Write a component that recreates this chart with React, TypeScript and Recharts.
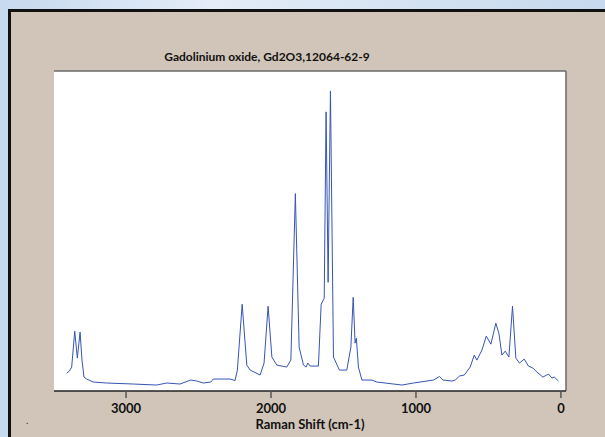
import React from 'react';
import { LineChart, Line, XAxis, YAxis, CartesianGrid, ReferenceLine, Label } from 'recharts';

const ramanShift = [
  3409, 3391, 3375, 3354, 3336, 3317, 3304, 3290, 3271, 3226, 3134, 2950, 2789, 2720, 2628,
  2554, 2512, 2466, 2416, 2398, 2351, 2282, 2248, 2232, 2199, 2167, 2144, 2075, 2048, 2020,
  1994, 1960, 1891, 1863, 1832, 1806, 1776, 1758, 1746, 1730, 1673, 1654, 1633, 1620, 1606,
  1590, 1569, 1528, 1477, 1449, 1433, 1420, 1411, 1397, 1373, 1304, 1270, 1097, 1017, 879,
  838, 814, 752, 729, 700, 667, 626, 598, 580, 545, 515, 483, 449, 428, 407,
  384, 359, 334, 311, 286, 253, 224, 193, 166, 124, 86, 62, 46, 17,
];
const intensity = [
  18, 20, 24, 60, 33, 59, 31, 14, 12, 9, 8, 7, 6, 8, 7,
  11, 10, 8, 9, 12, 12, 12, 10.5, 21, 87, 26, 21, 16, 28, 85,
  34, 26, 24, 31, 198, 44, 26, 24, 28, 25, 25, 87, 93, 280, 109,
  301, 34, 21, 21, 44, 94, 48, 53, 24, 11, 11, 9, 6, 8, 11,
  14.5, 11, 10, 11, 15, 16, 24, 36, 31, 41, 55, 47, 68, 58, 36,
  40, 34, 85, 33, 28, 32, 25, 23, 19, 14, 17, 13, 14, 10,
];
const xTicks = [3000, 2000, 1000, 0];
const xDomain = [-35, 3497];
const yDomain = [0, 321];
const title = 'Gadolinium oxide, Gd2O3,12064-62-9';
const xLabel = 'Raman Shift (cm-1)';

const data = ramanShift.map((s, i) => ({ shift: s, intensity: intensity[i] }));

const font = 'Lato, "Open Sans", sans-serif';

export default function App() {
  return (
    <div
      style={{
        position: 'absolute',
        left: 0,
        top: 0,
        width: 605,
        height: 437,
        overflow: 'hidden',
        background: 'linear-gradient(90deg, #c6d9ee 0%, #e4edf8 35%, #d8e5f3 60%, #c6d9ee 100%)',
      }}
    >
      <div
        style={{
          position: 'absolute',
          left: 8,
          top: 9,
          width: 640,
          height: 460,
          background: '#d1c5b9',
          borderTop: '3px solid #111',
          borderLeft: '3px solid #111',
        }}
      />
      <div
        style={{
          position: 'absolute',
          left: 0,
          width: 534,
          top: 49,
          textAlign: 'center',
          fontFamily: font,
          fontWeight: 'bold',
          fontSize: 12,
          color: '#111',
          lineHeight: '16px',
          whiteSpace: 'nowrap',
        }}
      >
        {title}
      </div>
      <div
        style={{
          position: 'absolute',
          left: 26,
          top: 414,
          fontFamily: font,
          fontSize: 10,
          color: '#333',
        }}
      >
        .
      </div>
      <div style={{ position: 'absolute', left: 0, top: 0 }}>
        <LineChart
          width={605}
          height={437}
          data={data}
          margin={{ top: 71, right: 39, bottom: 16, left: 54 }}
        >
          <CartesianGrid fill="#ffffff" horizontal={false} vertical={false} />
          <XAxis
            type="number"
            dataKey="shift"
            domain={xDomain}
            reversed
            ticks={xTicks}
            interval={0}
            allowDataOverflow
            height={30}
            tickSize={7}
            tickMargin={6}
            axisLine={{ stroke: '#222', strokeWidth: 1.5 }}
            tickLine={{ stroke: '#555', strokeWidth: 1.5 }}
            tick={{ fill: '#111', fontFamily: font, fontWeight: 'bold', fontSize: 13 }}
          >
            <Label
              value={xLabel}
              position="bottom"
              offset={-1}
              style={{ fill: '#111', fontFamily: font, fontWeight: 'bold', fontSize: 13 }}
            />
          </XAxis>
          <YAxis
            type="number"
            domain={yDomain}
            allowDataOverflow
            width={0}
            tick={false}
            tickLine={false}
            axisLine={{ stroke: '#222', strokeWidth: 1.5 }}
          />
          <ReferenceLine y={321} stroke="#6a6a6a" strokeWidth={1.5} />
          <ReferenceLine x={-35} stroke="#6a6a6a" strokeWidth={1.5} />
          <Line
            type="linear"
            dataKey="intensity"
            stroke="#3654b4"
            strokeWidth={1}
            dot={false}
            isAnimationActive={false}
          />
        </LineChart>
      </div>
    </div>
  );
}
